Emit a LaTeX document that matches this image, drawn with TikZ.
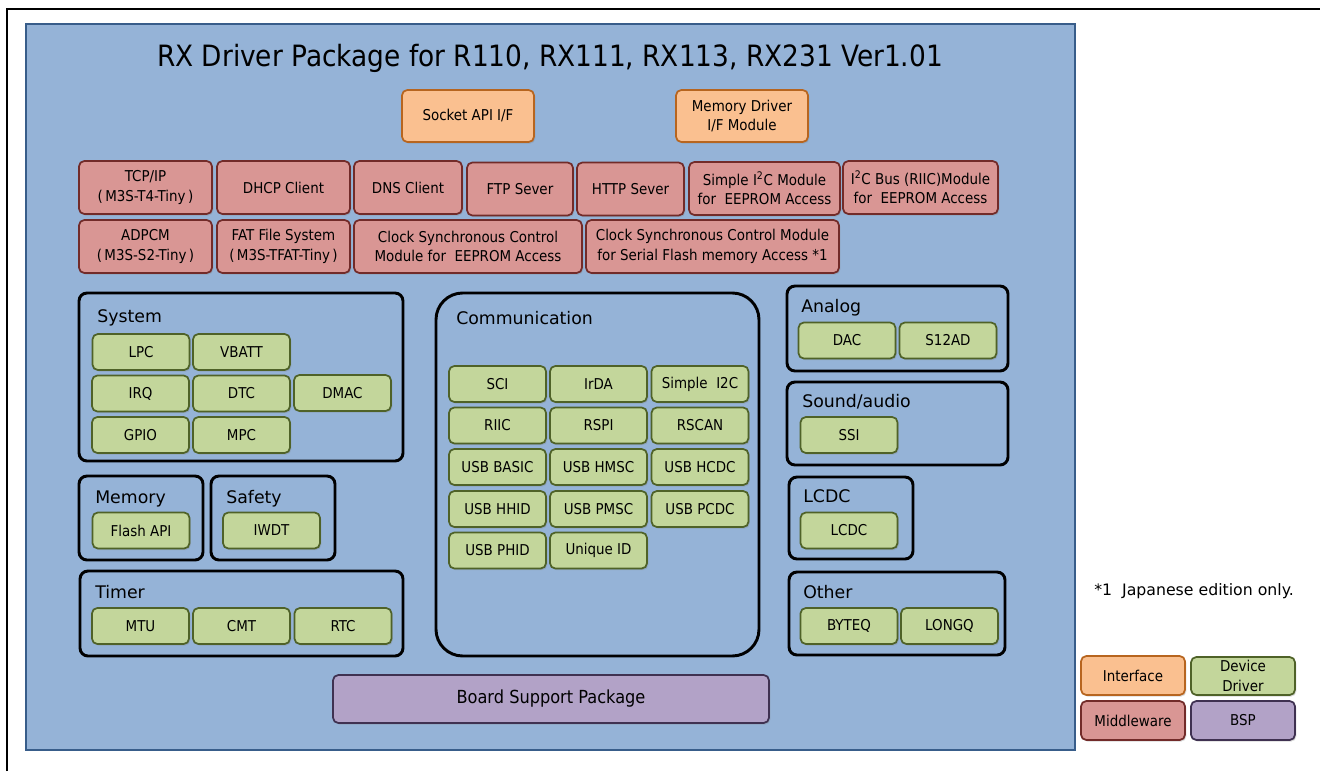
\documentclass[tikz,border=0pt]{standalone}
\usepackage{fontspec}
\setmainfont{DejaVu Sans Condensed}
\newfontfamily\widefont{DejaVu Sans}
\usetikzlibrary{shadows}

\definecolor{bgblue}{HTML}{95B3D7}
\definecolor{bgline}{HTML}{385D8A}
\definecolor{ifcfill}{HTML}{FAC090}
\definecolor{ifcline}{HTML}{B7651F}
\definecolor{mwfill}{HTML}{D99694}
\definecolor{mwline}{HTML}{722B29}
\definecolor{drvfill}{HTML}{C3D69B}
\definecolor{drvline}{HTML}{4F6228}
\definecolor{bspfill}{HTML}{B2A2C7}
\definecolor{bspline}{HTML}{3F3151}

\tikzset{
  mod/.style={rounded corners=4pt, line width=1.3pt, align=center, inner sep=0pt,
    font=\fontsize{11.2}{14.5}\selectfont,
    drop shadow={shadow xshift=1pt, shadow yshift=-1.2pt, opacity=0.3}},
  sz/.style 2 args={minimum width=#1*0.75pt, minimum height=#2*0.75pt},
  ifc/.style={mod, draw=ifcline, fill=ifcfill},
  mw/.style={mod, draw=mwline, fill=mwfill},
  drv/.style={mod, draw=drvline, fill=drvfill},
  dd/.style={drv, sz={97}{36}},
  bsp/.style={mod, draw=bspline, fill=bspfill},
  grp/.style={draw=black, line width=2.2pt, rounded corners=6pt},
  grplabel/.style={anchor=base west, inner sep=0pt, font=\widefont\fontsize{13}{15}\selectfont},
}

\begin{document}
\begin{tikzpicture}[x=0.75pt, y=-0.75pt]
  \useasboundingbox (0,0) rectangle (1320,771);

  % 外枠
  \draw[line width=1.5pt] (7,771) -- (7,9) -- (1320,9);

  % 背景
  \draw[fill=bgblue, draw=bgline, line width=1.5pt] (26,24) rectangle (1075,750);

  % タイトル
  \node[font=\fontsize{22}{26}\selectfont] (title) at (550,58)
    {RX Driver Package for R110, RX111, RX113, RX231 Ver1.01};

  % インタフェース
  \node[ifc, sz={132}{52}] (socket) at (468,116) {Socket API I/F};
  \node[ifc, sz={132}{52}] (memdrv) at (742,116) {Memory Driver\\I/F Module};

  % ミドルウェア
  \node[mw, sz={133}{53}] (tcpip) at (145.5,187.5) {TCP/IP\\(\,M3S-T4-Tiny\,)};
  \node[mw, sz={133}{53}] (dhcp) at (283.5,187.5) {DHCP Client};
  \node[mw, sz={108}{53}] (dns) at (408,187.5) {DNS Client};
  \node[mw, sz={106}{53}] (ftp) at (520,189) {FTP Sever};
  \node[mw, sz={107}{53}] (http) at (630.5,189) {HTTP Sever};
  \node[mw, sz={151}{53}] (siiceep) at (764.5,188.5)
    {Simple I\textsuperscript{2}C Module\\for\ \ EEPROM Access};
  \node[mw, sz={155}{53}] (riiceep) at (920.5,187.5)
    {I\textsuperscript{2}C Bus (RIIC)Module\\for\ \ EEPROM Access};
  \node[mw, sz={133}{53}] (adpcm) at (145.5,246.5) {ADPCM\\(\,M3S-S2-Tiny\,)};
  \node[mw, sz={133}{53}] (fat) at (283.5,246.5) {FAT File System\\(\,M3S-TFAT-Tiny\,)};
  \node[mw, sz={228}{53}] (csieep) at (468,246.5)
    {Clock Synchronous Control\\Module for\ \ EEPROM Access};
  \node[mw, sz={253}{53}] (csiflash) at (712.5,246.5)
    {Clock Synchronous Control Module\\for Serial Flash memory Access *1};

  % System
  \draw[grp] (79,293) rectangle (403,461);
  \node[grplabel] (system) at (97,322) {System};
  \node[dd] (lpc) at (141,352) {LPC};
  \node[dd] (vbatt) at (241.5,352) {VBATT};
  \node[dd] (irq) at (140.5,393.5) {IRQ};
  \node[dd] (dtc) at (241.5,393.5) {DTC};
  \node[dd] (dmac) at (342.5,393) {DMAC};
  \node[dd] (gpio) at (140.5,435) {GPIO};
  \node[dd] (mpc) at (241.5,435) {MPC};

  % Memory / Safety
  \draw[grp] (79,476) rectangle (203,560);
  \node[grplabel] (memory) at (95,503) {Memory};
  \node[dd] (flash) at (141,530.5) {Flash API};
  \draw[grp] (211,476) rectangle (335,560);
  \node[grplabel] (safety) at (226,503) {Safety};
  \node[dd] (iwdt) at (271.5,530.5) {IWDT};

  % Timer
  \draw[grp] (80,571) rectangle (403,656);
  \node[grplabel] (timer) at (95,598) {Timer};
  \node[dd] (mtu) at (140.5,626) {MTU};
  \node[dd] (cmt) at (241.5,626) {CMT};
  \node[dd] (rtc) at (343,626) {RTC};

  % Communication
  \draw[grp, rounded corners=20pt] (436,293) rectangle (759,656);
  \node[grplabel] (comm) at (456,324) {Communication};
  \node[dd] (sci) at (497.5,384) {SCI};
  \node[dd] (irda) at (598.5,384) {IrDA};
  \node[dd] (siic) at (700,384) {Simple\ \ I2C};
  \node[dd] (riic) at (497.5,425.5) {RIIC};
  \node[dd] (rspi) at (598.5,425.5) {RSPI};
  \node[dd] (rscan) at (700,425.5) {RSCAN};
  \node[dd] (usbbasic) at (497.5,467) {USB BASIC};
  \node[dd] (usbhmsc) at (598.5,467) {USB HMSC};
  \node[dd] (usbhcdc) at (700,467) {USB HCDC};
  \node[dd] (usbhhid) at (497.5,509) {USB HHID};
  \node[dd] (usbpmsc) at (598.5,509) {USB PMSC};
  \node[dd] (usbpcdc) at (700,509) {USB PCDC};
  \node[dd] (usbphid) at (497.5,550.5) {USB PHID};
  \node[dd] (uid) at (598.5,550.5) {Unique ID};

  % Analog / Sound / LCDC / Other
  \draw[grp] (787,286) rectangle (1008,371);
  \node[grplabel] (analog) at (801,312) {Analog};
  \node[dd] (dac) at (847,340.5) {DAC};
  \node[dd] (s12ad) at (948,340.5) {S12AD};
  \draw[grp] (787,382) rectangle (1008,465);
  \node[grplabel] (sound) at (802,407) {Sound/audio};
  \node[dd] (ssi) at (849,435) {SSI};
  \draw[grp] (789,477) rectangle (913,559);
  \node[grplabel] (lcdclabel) at (803,502) {LCDC};
  \node[dd] (lcdc) at (849,530.5) {LCDC};
  \draw[grp] (789,572) rectangle (1005,655);
  \node[grplabel] (other) at (803,598) {Other};
  \node[dd] (byteq) at (849,626) {BYTEQ};
  \node[dd] (longq) at (949.5,626) {LONGQ};

  % BSP
  \node[bsp, sz={436}{48}, font=\fontsize{13.5}{16}\selectfont] (bsp) at (551,699)
    {Board Support Package};

  % 注記と凡例
  \node[anchor=west, inner sep=0pt, font=\widefont\fontsize{11.8}{14}\selectfont] (note)
    at (1094,591) {*1\ \ Japanese edition only.};
  \node[ifc, sz={104}{39}] (lgifc) at (1133,675.5) {Interface};
  \node[drv, sz={104}{38}] (lgdrv) at (1243,676) {Device\\Driver};
  \node[mw, sz={104}{39}] (lgmw) at (1133,720.5) {Middleware};
  \node[bsp, sz={104}{39}] (lgbsp) at (1243,720.5) {BSP};
\end{tikzpicture}
\end{document}
